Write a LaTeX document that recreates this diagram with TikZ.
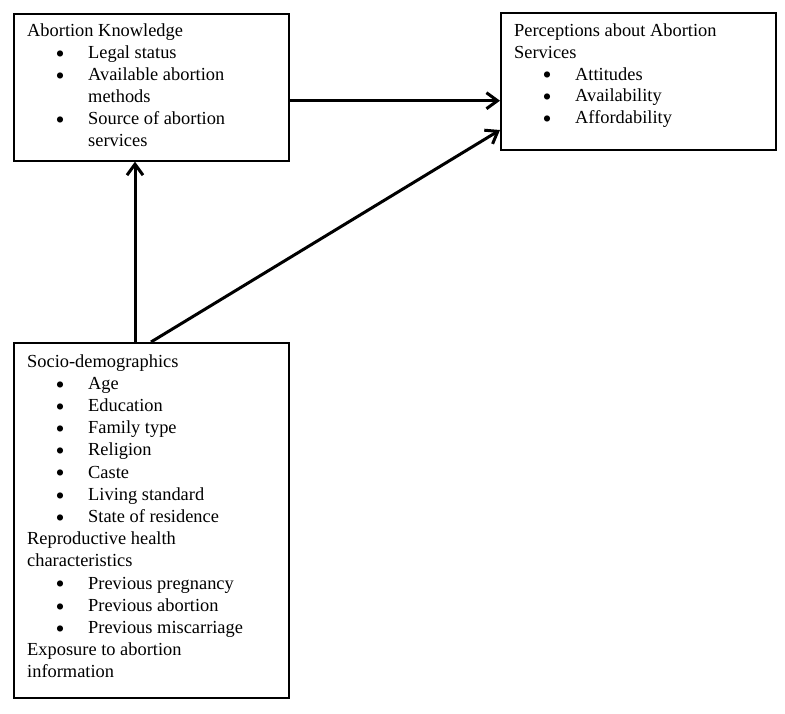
\documentclass[tikz,border=0pt]{standalone}
\usepackage{fontspec}
\setmainfont{Liberation Serif}
\usetikzlibrary{arrows.meta}
\newcommand\hdline[1]{\noindent #1\par}
\newcommand\mybul{\makebox[0pt]{\smash{\raisebox{-3.8pt}{\scalebox{1.4}{\textbullet}}}}}
\newcommand\bline[1]{\noindent\hspace*{33pt}\mybul\hspace*{28pt}#1\par}
\newcommand\contline[1]{\noindent\hspace*{61pt}#1\par}
\newcommand\boxtext[2]{\parbox[t]{260pt}{\fontsize{18.4}{#1}\selectfont\setlength\baselineskip{#1}\setlength\lineskiplimit{-20pt}\setlength\parskip{0pt}#2}}
\tikzset{
  box/.style={draw=black, line width=1.6pt, rectangle, anchor=north west, inner sep=0pt},
  txt/.style={anchor=base west, inner sep=0pt},
  arr/.style={line width=3pt, -{Straight Barb[length=11pt,width=16pt]}}
}
\begin{document}
\begin{tikzpicture}[x=1pt,y=-1pt]
\useasboundingbox (0,0) rectangle (785,713);
\node[box, minimum width=275pt, minimum height=147pt] (k) at (13,13) {};
\node[box, minimum width=275pt, minimum height=137pt] (p) at (500,12) {};
\node[box, minimum width=275pt, minimum height=355pt] (s) at (13,342) {};
\node[txt] (kt) at (27,36.7) {\boxtext{22pt}{%
\hdline{Abortion Knowledge}
\bline{Legal status}
\bline{Available abortion}
\contline{methods}
\bline{Source of abortion}
\contline{services}}};
\node[txt] (pt) at (514,36.7) {\boxtext{21.7pt}{%
\hdline{Perceptions about Abortion}
\hdline{Services}
\bline{Attitudes}
\bline{Availability}
\bline{Affordability}}};
\node[txt] (st) at (27,367) {\boxtext{22.2pt}{%
\hdline{Socio-demographics}
\bline{Age}
\bline{Education}
\bline{Family type}
\bline{Religion}
\bline{Caste}
\bline{Living standard}
\bline{State of residence}
\hdline{Reproductive health}
\hdline{characteristics}
\bline{Previous pregnancy}
\bline{Previous abortion}
\bline{Previous miscarriage}
\hdline{Exposure to abortion}
\hdline{information}}};
\coordinate (h) at (0,100.7);
\coordinate (v) at (135,0);
\coordinate (d1) at (151,0);
\coordinate (d2) at (0,130);
\draw[arr] (k.east |- h) -- (p.west |- h);
\draw[arr] (s.north -| v) -- (k.south -| v);
\draw[arr] (s.north -| d1) -- (p.west |- d2);
\end{tikzpicture}
\end{document}
